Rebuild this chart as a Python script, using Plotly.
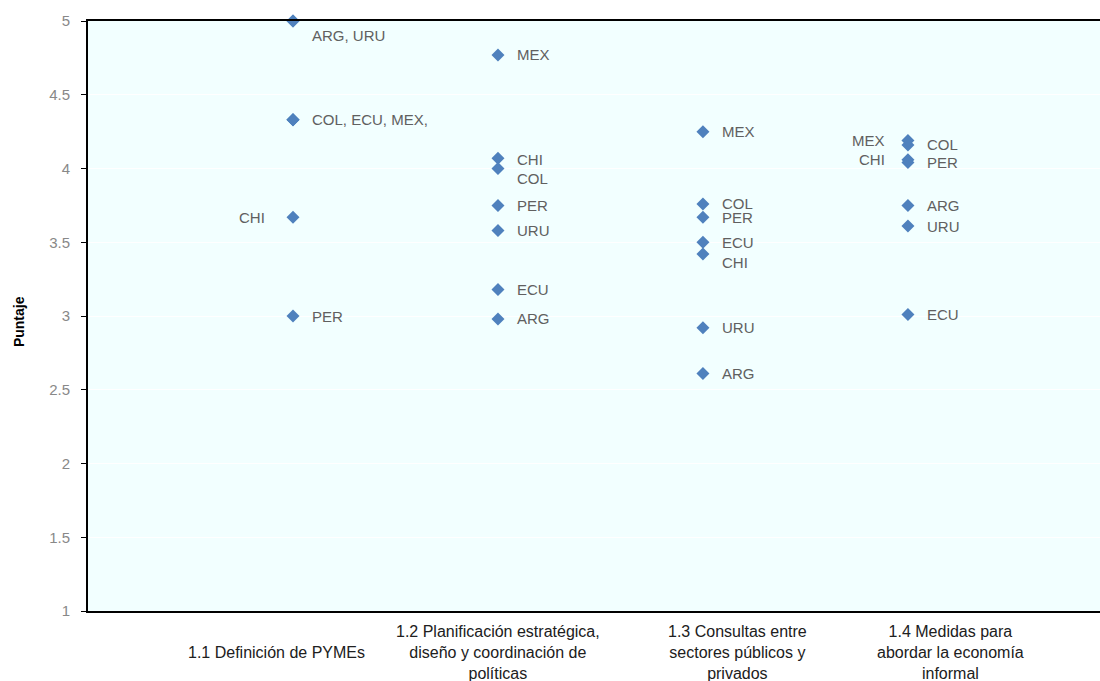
import plotly.graph_objects as go

countries = ["ARG", "CHI", "COL", "ECU", "MEX", "PER", "URU"]
categories = [
    "1.1 Definición de PYMEs",
    "1.2 Planificación estratégica,<br>diseño y coordinación de<br>políticas",
    "1.3 Consultas entre<br>sectores públicos y<br>privados",
    "1.4 Medidas para<br>abordar la economía<br>informal",
]
cat_positions = [1, 2, 3, 4]

scores_11 = [5.0, 3.67, 4.33, 4.33, 4.33, 3.0, 5.0]
scores_12 = [2.98, 4.07, 4.0, 3.18, 4.77, 3.75, 3.58]
scores_13 = [2.61, 3.42, 3.76, 3.50, 4.25, 3.67, 2.92]
scores_14 = [3.75, 4.06, 4.16, 3.01, 4.19, 4.04, 3.61]
all_scores = [scores_11, scores_12, scores_13, scores_14]

# label texts per category (grouped where points coincide)
labels_11 = ["ARG, URU", "CHI", "COL, ECU, MEX,", "", "", "PER", ""]
labels_12 = countries
labels_13 = countries
labels_14 = countries
all_labels = [labels_11, labels_12, labels_13, labels_14]

y_ticks = [1, 1.5, 2, 2.5, 3, 3.5, 4, 4.5, 5]
y_ticktext = ["1", "1.5", "2", "2.5", "3", "3.5", "4", "4.5", "5"]

# label placement (layout only)
left_shift = {(0, "CHI"): -26, (3, "MEX"): -21, (3, "CHI"): -21}
label_yshift = {(0, "ARG"): -14, (1, "COL"): -10, (2, "CHI"): -8, (1, "CHI"): -1}
cat_label_x = [0.92, 2.0, 3.17, 4.21]

FONT = "Liberation Sans, Arial, sans-serif"
BLUE = "#4F81BD"

fig = go.Figure()
annotations = []
for ci, (pos, sc, lb) in enumerate(zip(cat_positions, all_scores, all_labels)):
    fig.add_trace(go.Scatter(
        x=[pos] * len(sc), y=sc, mode="markers",
        marker=dict(symbol="diamond", size=10, color=BLUE),
        cliponaxis=False, showlegend=False, hoverinfo="y",
    ))
    for name, val, txt in zip(countries, sc, lb):
        if not txt:
            continue
        left = (ci, name) in left_shift
        annotations.append(dict(
            x=pos, y=val, xref="x", yref="y", text=txt, showarrow=False,
            xanchor="right" if left else "left", yanchor="middle",
            xshift=left_shift[(ci, name)] if left else 17,
            yshift=label_yshift.get((ci, name), 0),
            font=dict(family=FONT, size=15, color="#606060"),
        ))

for cx, ct in zip(cat_label_x, categories):
    annotations.append(dict(
        x=cx, y=-0.0695, xref="x", yref="paper", text=ct, showarrow=False,
        xanchor="center", yanchor="middle", align="center",
        font=dict(family=FONT, size=16, color="#202020"),
    ))

annotations.append(dict(
    x=-0.068, y=0.49, xref="paper", yref="paper", text="<b>Puntaje</b>",
    showarrow=False, textangle=-90, xanchor="center", yanchor="middle",
    font=dict(family=FONT, size=14, color="#000000"),
))

fig.update_layout(
    width=1100, height=681,
    margin=dict(l=88, r=0, t=21, b=70),
    paper_bgcolor="white", plot_bgcolor="#F2FFFF",
    font=dict(family=FONT),
    annotations=annotations,
    xaxis=dict(range=[0, 4.937], showticklabels=False, showgrid=False, zeroline=False,
               showline=True, linecolor="black", linewidth=2, mirror=True, ticks=""),
    yaxis=dict(range=[1, 5], tickvals=y_ticks, ticktext=y_ticktext,
               showgrid=True, gridcolor="white", gridwidth=1, zeroline=False,
               showline=True, linecolor="black", linewidth=2,
               ticks="outside", ticklen=5, tickcolor="black", ticklabelstandoff=8,
               tickfont=dict(family=FONT, size=15, color="#888888")),
)

fig.write_html(
    "out.html",
    config={"displayModeBar": False},
    post_script="document.body.style.margin='0';document.body.style.overflow='hidden';",
)
